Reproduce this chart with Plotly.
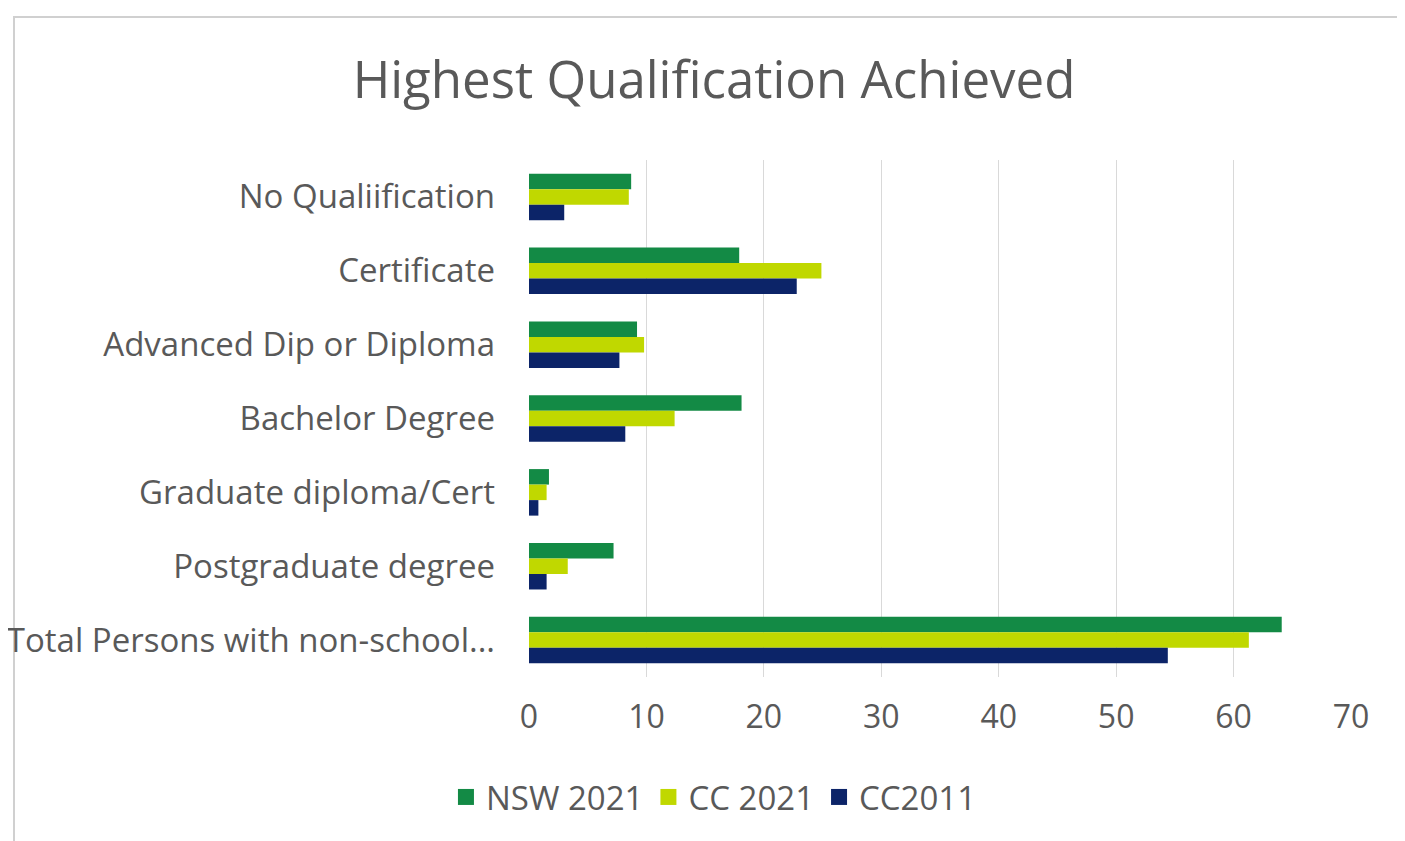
import plotly.graph_objects as go

categories = ["No Qualiification", "Certificate", "Advanced Dip or Diploma", "Bachelor Degree",
              "Graduate diploma/Cert", "Postgraduate degree", "Total Persons with non-school..."]
nsw_2021 = [8.7, 17.9, 9.2, 18.1, 1.7, 7.2, 64.1]
cc_2021 = [8.5, 24.9, 9.8, 12.4, 1.5, 3.3, 61.3]
cc_2011 = [3.0, 22.8, 7.7, 8.2, 0.8, 1.5, 54.4]
x_ticks = [0, 10, 20, 30, 40, 50, 60, 70]

FONT = "Open Sans, Liberation Sans, sans-serif"
GREY = "#595959"

W, H = 1397, 833
L, T, PW, PH = 521, 152, 822, 517

series = [("NSW 2021", nsw_2021, "#138a45"),
          ("CC 2021", cc_2021, "#c0d800"),
          ("CC2011", cc_2011, "#0c2468")]

fig = go.Figure()
for name, vals, col in series:
    fig.add_trace(go.Bar(y=categories, x=vals, name=name, orientation="h", showlegend=False,
                         legendgroup=name, marker=dict(color=col, line=dict(width=0))))
for name, vals, col in series:
    fig.add_trace(go.Scatter(x=[None], y=[None], mode="markers", name=name, legendgroup=name,
                             marker=dict(symbol="square", size=16, color=col), showlegend=True))

fig.update_layout(
    width=W, height=H,
    barmode="group", bargap=0.37, bargroupgap=0,
    plot_bgcolor="white", paper_bgcolor="white",
    margin=dict(l=L, r=W - L - PW, t=T, b=H - T - PH, autoexpand=False),
    title=dict(text="Highest Qualification Achieved", x=706 / W, xref="container", xanchor="center",
               y=1 - 72 / H, yref="container", yanchor="middle",
               font=dict(family=FONT, size=51, color=GREY)),
    font=dict(family=FONT, color=GREY),
    xaxis=dict(range=[0, 70], tickvals=x_ticks, showgrid=True, gridcolor="#d9d9d9", gridwidth=1,
               zeroline=False, showline=False, ticks="", tickfont=dict(size=32, color=GREY),
               ticklabelstandoff=18),
    yaxis=dict(autorange="reversed", showgrid=False, showline=False, ticks="",
               tickfont=dict(size=33, color=GREY), ticklabelstandoff=33),
    legend=dict(orientation="h", x=0.225, xref="paper", xanchor="center",
                y=(T + PH - 789) / PH, yanchor="middle",
                font=dict(size=33, color=GREY), itemwidth=30, traceorder="normal"),
    showlegend=True,
)
fig.add_shape(type="rect", xref="paper", yref="paper",
              x0=(6 - L) / PW, x1=(1390 - L) / PW,
              y0=(T + PH - 840) / PH, y1=(T + PH - 9) / PH,
              line=dict(color="#d0d0d0", width=2), fillcolor="rgba(0,0,0,0)", layer="below")
fig.write_html("out.html")
